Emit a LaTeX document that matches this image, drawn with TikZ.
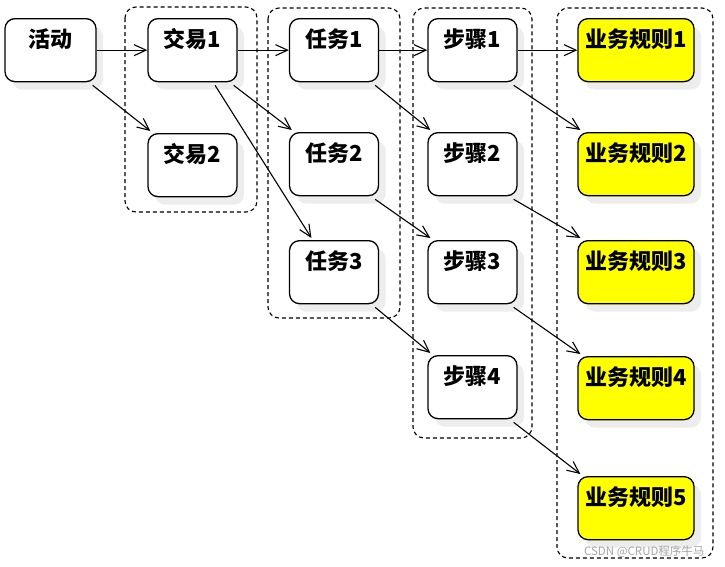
\documentclass[tikz,border=0pt]{standalone}
\usepackage{fontspec}
\setmainfont{Noto Sans CJK SC}
\usetikzlibrary{arrows.meta,shadows,calc}
\definecolor{puryellow}{RGB}{255,255,0}
\tikzset{
  box/.style={draw=black, line width=1.3pt, rounded corners=10pt, fill=white,
    anchor=north, inner xsep=0pt, inner ysep=0pt, minimum width=89pt,
    text height=29pt, text depth=34pt,
    font=\fontsize{22}{24}\selectfont\bfseries,
    drop shadow={shadow xshift=7pt, shadow yshift=-8pt, fill=black!7, opacity=1}},
  rule/.style={box, fill=puryellow, minimum width=116pt},
  grp/.style={draw=black, line width=1.1pt, dash pattern=on 4pt off 3pt, rounded corners=11pt},
  arr/.style={draw=black, line width=1.1pt, -{Straight Barb[length=12pt,width=11pt,line width=1.1pt]}},
}
\begin{document}
\begin{tikzpicture}[x=1pt,y=-1pt]
\useasboundingbox (0,0) rectangle (725,566);
% groups
\draw[grp] (125,7) rectangle (257,212);
\draw[grp] (268,8) rectangle (400,318);
\draw[grp] (413,8) rectangle (532,438);
\draw[grp] (557,8) rectangle (713,558);
% nodes
\node[box, minimum width=91pt] (hd) at (50.5,18) {活动};
\node[box] (jy1) at (192.5,18) {交易1};
\node[box] (jy2) at (192.5,133) {交易2};
\node[box] (rw1) at (334,18) {任务1};
\node[box] (rw2) at (334,132) {任务2};
\node[box] (rw3) at (334,240) {任务3};
\node[box] (bz1) at (472.5,18) {步骤1};
\node[box] (bz2) at (472.5,132) {步骤2};
\node[box] (bz3) at (472.5,240) {步骤3};
\node[box] (bz4) at (472.5,355) {步骤4};
\node[rule] (gz1) at (636,18) {业务规则1};
\node[rule] (gz2) at (636,132) {业务规则2};
\node[rule] (gz3) at (636,240) {业务规则3};
\node[rule] (gz4) at (636,356) {业务规则4};
\node[rule] (gz5) at (636,476) {业务规则5};
% connectors
\tikzset{s/.style={shift={(-4pt,-3pt)}}, t/.style={shift={(3pt,2pt)}}}
\draw[arr] (hd.east) -- (jy1.west);
\draw[arr] ([s]hd.south east) -- ([t]jy2.north west);
\draw[arr] (jy1.east) -- (rw1.west);
\draw[arr] ([s]jy1.south east) -- ([t]rw2.north west);
\draw[arr] ([shift={(0pt,-3pt)}]$(jy1.south)!0.5!(jy1.south east)$) -- ([shift={(0pt,2pt)}]$(rw3.north west)!0.5!(rw3.north)$);
\draw[arr] (rw1.east) -- (bz1.west);
\draw[arr] ([s]rw1.south east) -- ([t]bz2.north west);
\draw[arr] ([s]rw2.south east) -- ([t]bz3.north west);
\draw[arr] ([s]rw3.south east) -- ([t]bz4.north west);
\draw[arr] (bz1.east) -- (gz1.west);
\draw[arr] ([s]bz1.south east) -- ([t]gz2.north west);
\draw[arr] ([s]bz2.south east) -- ([t]gz3.north west);
\draw[arr] ([s]bz3.south east) -- ([t]gz4.north west);
\draw[arr] ([s]bz4.south east) -- ([t]gz5.north west);
% watermark
\node[text=black!35, font=\fontsize{11.5}{12}\selectfont, anchor=east] (wm) at (708,552) {CSDN @CRUD程序牛马};
\end{tikzpicture}
\end{document}
